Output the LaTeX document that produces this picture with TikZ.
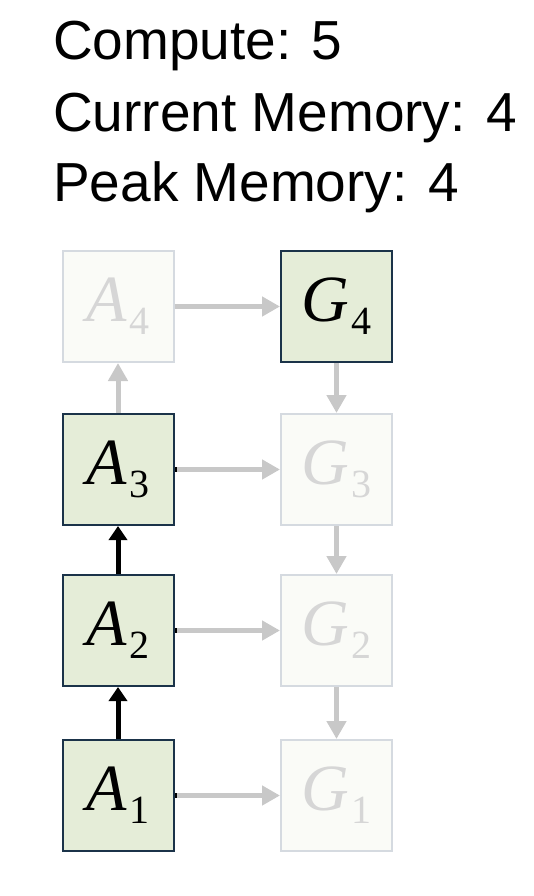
\documentclass[tikz,border=0pt]{standalone}
\usepackage{fontspec}
\setmainfont{Liberation Sans}
\newfontfamily\seriffam{Liberation Serif}
\usetikzlibrary{arrows.meta}
\newcommand{\varsub}[2]{{\seriffam\itshape\fontsize{66}{70}\selectfont #1}\kern2pt\raisebox{-13pt}{\seriffam\fontsize{40}{44}\selectfont #2}}
\definecolor{actfill}{HTML}{E5EDD8}
\definecolor{actdraw}{HTML}{1B3349}
\definecolor{offfill}{HTML}{FAFBF7}
\definecolor{offdraw}{HTML}{D5DAE0}
\definecolor{offtext}{HTML}{D6D6D6}
\definecolor{arrgray}{HTML}{C8C8C8}
\tikzset{
  box/.style={rectangle, minimum width=111pt, minimum height=111pt, inner sep=0pt, line width=2pt},
  active/.style={box, fill=actfill, draw=actdraw, text=black},
  inactive/.style={box, fill=offfill, draw=offdraw, text=offtext},
  grayarrow/.style={draw=arrgray, line width=5pt, -{Triangle[length=18pt,width=19pt]}},
  blackarrow/.style={draw=black, line width=5pt, -{Triangle[length=14pt,width=18pt]}},
  title/.style={anchor=base west, inner sep=0pt, font=\fontsize{55}{66}\selectfont}
}
\begin{document}
\begin{tikzpicture}[x=1pt,y=-1pt]
\useasboundingbox (0,0) rectangle (534,896);
\node[title] (t1) at (53,60) {Compute: 5};
\node[title] (t2) at (53,131.5) {Current Memory: 4};
\node[title] (t3) at (53,201.5) {Peak Memory: 4};

\node[inactive] (a4) at (118,306.5) {\varsub{A}{4}};
\node[active]   (a3) at (118,469.5) {\varsub{A}{3}};
\node[active]   (a2) at (118,630.5) {\varsub{A}{2}};
\node[active]   (a1) at (118,795.5) {\varsub{A}{1}};
\node[active]   (g4) at (336.5,306.5) {\varsub{G}{4}};
\node[inactive] (g3) at (336.5,469.5) {\varsub{G}{3}};
\node[inactive] (g2) at (336.5,630.5) {\varsub{G}{2}};
\node[inactive] (g1) at (336.5,795.5) {\varsub{G}{1}};

\draw[grayarrow] (a4.east) -- (g4.west);
\draw[grayarrow] (a3.east) -- (g3.west);
\draw[grayarrow] (a2.east) -- (g2.west);
\draw[grayarrow] (a1.east) -- (g1.west);
\draw[grayarrow] (a3.north) -- (a4.south);
\draw[grayarrow] (g4.south) -- (g3.north);
\draw[grayarrow] (g3.south) -- (g2.north);
\draw[grayarrow] (g2.south) -- (g1.north);
\draw[blackarrow] (a1.north) -- (a2.south);
\draw[blackarrow] (a2.north) -- (a3.south);

\draw[black, line width=5pt] (a3.east) -- ++(2.5,0);
\draw[black, line width=5pt] (a2.east) -- ++(2.5,0);
\draw[black, line width=5pt] (a1.east) -- ++(2.5,0);
\end{tikzpicture}
\end{document}
